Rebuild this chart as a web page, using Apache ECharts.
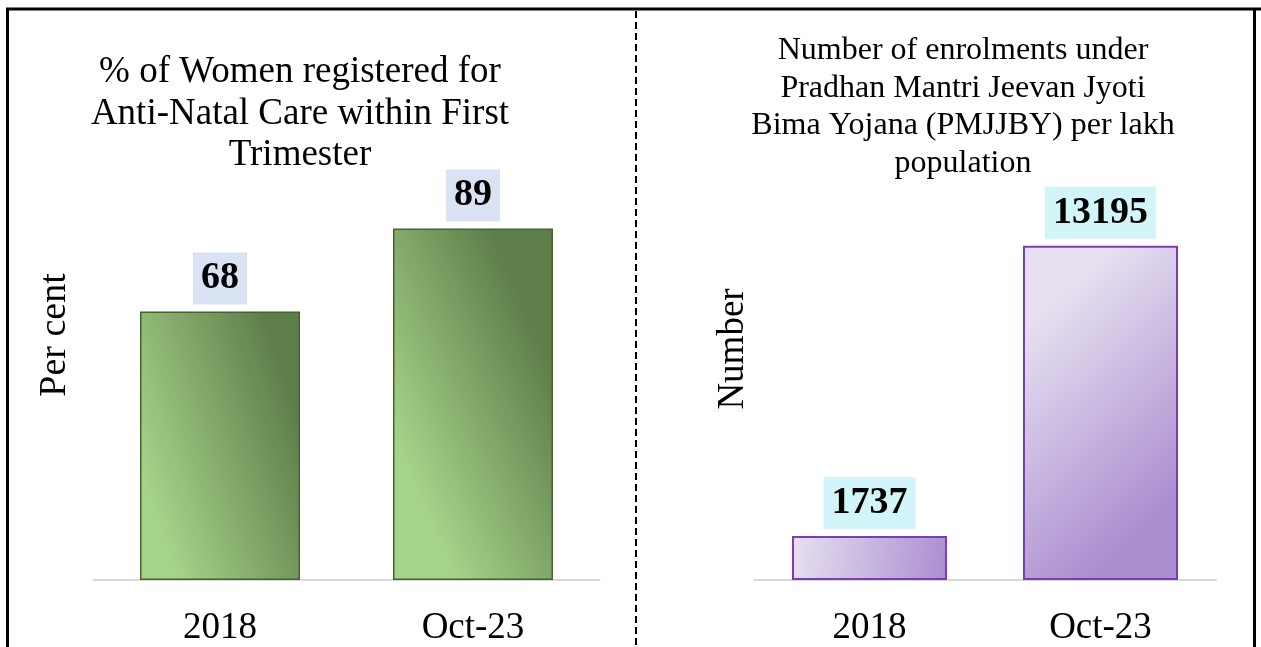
<!DOCTYPE html>
<html>
<head>
<meta charset="utf-8">
<script src="https://cdn.jsdelivr.net/npm/echarts@6/dist/echarts.min.js"></script>
<style>
  html, body { margin: 0; padding: 0; background: #fff; }
  #main { width: 1261px; height: 647px; }
</style>
</head>
<body>
<div id="main"></div>
<script>
// data
var categories = ['2018', 'Oct-23'];
var ancValues = [68, 89];
var pmjjbyValues = [1737, 13195];

var FONT = '"Liberation Serif", "Times New Roman", serif';

var chart = echarts.init(document.getElementById('main'));

// gradients run mostly left -> right, a little diagonal
var greenFill = new echarts.graphic.LinearGradient(0, 0.6, 1, 0.4, [
  { offset: 0, color: '#a6d38a' },
  { offset: 1, color: '#5e7e4a' }
]);
var purpleFill = new echarts.graphic.LinearGradient(0, 0.25, 1, 0.75, [
  { offset: 0, color: '#e6e0f0' },
  { offset: 1, color: '#ab8ed0' }
]);

function xAxisCfg(idx) {
  return {
    type: 'category',
    gridIndex: idx,
    data: categories,
    axisTick: { show: false },
    axisLine: { lineStyle: { color: '#d9d9d9', width: 2 } },
    axisLabel: { color: '#000', fontFamily: FONT, fontSize: 37, margin: 30 }
  };
}
function yAxisCfg(idx, max) {
  return {
    type: 'value',
    gridIndex: idx,
    min: 0,
    max: max,
    show: false
  };
}
function labelCfg(bg) {
  return {
    show: true,
    position: 'top',
    distance: 7,
    color: '#000',
    fontFamily: FONT,
    fontWeight: 'bold',
    fontSize: 38,
    lineHeight: 38,
    backgroundColor: bg,
    padding: [7, 8, 7, 8]
  };
}

option = {
  animation: false,
  title: [
    {
      text: '% of Women registered for\nAnti-Natal Care within First\nTrimester',
      left: 300, top: 52, textAlign: 'center', padding: 0,
      textStyle: { fontFamily: FONT, fontWeight: 'normal', fontSize: 37, lineHeight: 41.5, color: '#000' }
    },
    {
      text: 'Number of enrolments under\nPradhan Mantri Jeevan Jyoti\nBima Yojana (PMJJBY) per lakh\npopulation',
      left: 963, top: 32, textAlign: 'center', padding: 0,
      textStyle: { fontFamily: FONT, fontWeight: 'normal', fontSize: 32, lineHeight: 37.5, color: '#000' }
    }
  ],
  grid: [
    { left: 93.5, width: 506, top: 185, height: 396 },
    { left: 754, width: 462, top: 200, height: 381 }
  ],
  xAxis: [xAxisCfg(0), xAxisCfg(1)],
  yAxis: [yAxisCfg(0, 100), yAxisCfg(1, 15000)],
  series: [
    {
      type: 'bar',
      xAxisIndex: 0, yAxisIndex: 0,
      data: ancValues,
      barWidth: 160,
      itemStyle: { color: greenFill, borderColor: '#44632f', borderWidth: 1.5 },
      label: labelCfg('#dae3f3')
    },
    {
      type: 'bar',
      xAxisIndex: 1, yAxisIndex: 1,
      data: pmjjbyValues,
      barWidth: 155,
      itemStyle: { color: purpleFill, borderColor: '#7a3db3', borderWidth: 2 },
      label: labelCfg('#d2f5fa')
    }
  ],
  graphic: [
    // frame
    { type: 'line', shape: { x1: 6, y1: 9, x2: 1261, y2: 9 }, style: { stroke: '#000', lineWidth: 3 } },
    { type: 'line', shape: { x1: 7.5, y1: 8, x2: 7.5, y2: 647 }, style: { stroke: '#000', lineWidth: 3 } },
    { type: 'line', shape: { x1: 1254.5, y1: 8, x2: 1254.5, y2: 647 }, style: { stroke: '#000', lineWidth: 3 } },
    // dashed divider
    { type: 'line', shape: { x1: 636, y1: 11, x2: 636, y2: 647 }, style: { stroke: '#000', lineWidth: 2, lineDash: [7, 4] } },
    // y-axis names
    { type: 'text', x: 55, y: 335, rotation: Math.PI / 2,
      style: { text: 'Per cent', fontFamily: FONT, fontSize: 38, fill: '#000', align: 'center', verticalAlign: 'middle' } },
    { type: 'text', x: 733, y: 349, rotation: Math.PI / 2,
      style: { text: 'Number', fontFamily: FONT, fontSize: 37, fill: '#000', align: 'center', verticalAlign: 'middle' } }
  ]
};

chart.setOption(option);
</script>
</body>
</html>
